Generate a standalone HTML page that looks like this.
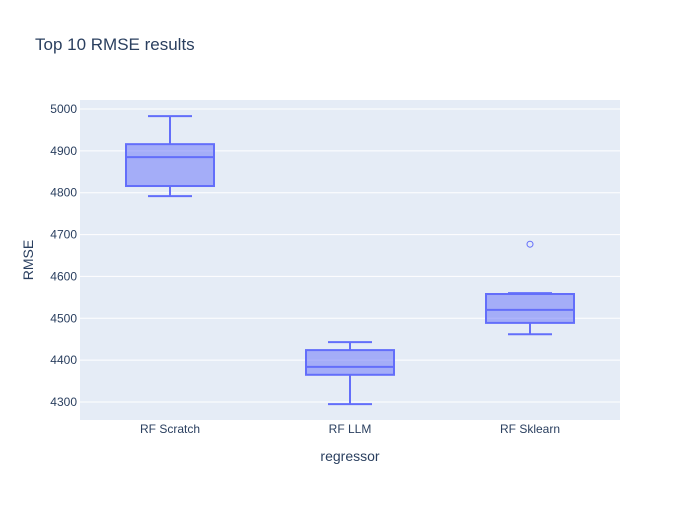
<!DOCTYPE html>
<html><head><meta charset="utf-8"><style>
body{margin:0;background:#fff;font-family:"Liberation Sans",sans-serif}
</style></head><body>
<svg id="chart" width="700" height="500" xmlns="http://www.w3.org/2000/svg">
<rect x="0" y="0" width="700" height="500" fill="#fff"/>
<rect x="80" y="100" width="540" height="320" fill="#e5ecf6"/>
<g id="grid"></g>
<g id="boxes"></g>
<g id="axes"></g>
<text x="35" y="50" font-size="17" fill="#2a3f5f">Top 10 RMSE results</text>
<text x="350" y="461" font-size="14" fill="#2a3f5f" text-anchor="middle">regressor</text>
<text x="33" y="260" font-size="14" fill="#2a3f5f" text-anchor="middle" transform="rotate(-90 33 260)">RMSE</text>
</svg>
<script>
const categories=["RF Scratch","RF LLM","RF Sklearn"];
const lowerFence=[4792,4295,4462];
const q1=[4816,4365,4489];
const median=[4885,4384,4520];
const q3=[4916,4424,4558];
const upperFence=[4983,4443,4560];
const outliers=[[],[],[4677]];
const yTicks=[4300,4400,4500,4600,4700,4800,4900,5000];
const NS="http://www.w3.org/2000/svg";
const y=v=>109+(5000-v)*(293/700);
const x=i=>80+540/categories.length*(i+0.5);
function mk(tag,attrs,parent){const e=document.createElementNS(NS,tag);for(const k in attrs)e.setAttribute(k,attrs[k]);document.getElementById(parent).appendChild(e);return e;}
yTicks.forEach(t=>{
 const l=mk('line',{x1:80,x2:620,y1:y(t),y2:y(t),stroke:'#fff','stroke-width':1},'grid');
 
 
 const tx=mk('text',{x:77,y:y(t)+4,'font-size':12,fill:'#2a3f5f','text-anchor':'end'},'axes');
 tx.textContent=t;
 
 
});
categories.forEach((c,i)=>{
 const cx=x(i),hw=44,cw=22,col='#636efa';
 const tx=mk('text',{x:cx,y:433,'font-size':12,fill:'#2a3f5f','text-anchor':'middle'},'axes');
 tx.textContent=c;
 
 
 const d=`M${cx},${y(upperFence[i])}V${y(q3[i])}M${cx},${y(lowerFence[i])}V${y(q1[i])}M${cx-cw},${y(upperFence[i])}H${cx+cw}M${cx-cw},${y(lowerFence[i])}H${cx+cw}`;
 const w=mk('path',{d:d,stroke:col,'stroke-width':2,fill:'none'},'boxes');
 
 
 const b=mk('rect',{x:cx-hw,y:y(q3[i]),width:2*hw,height:y(q1[i])-y(q3[i]),fill:'rgba(99,110,250,0.5)',stroke:col,'stroke-width':2},'boxes');
 
 
 const m=mk('line',{x1:cx-hw,x2:cx+hw,y1:y(median[i]),y2:y(median[i]),stroke:col,'stroke-width':2},'boxes');
 
 
 outliers[i].forEach(o=>{
  const p=mk('circle',{cx:cx,cy:y(o),r:3,fill:'none',stroke:col,'stroke-width':1},'boxes');
  
  
 });
});
</script>
</body></html>
